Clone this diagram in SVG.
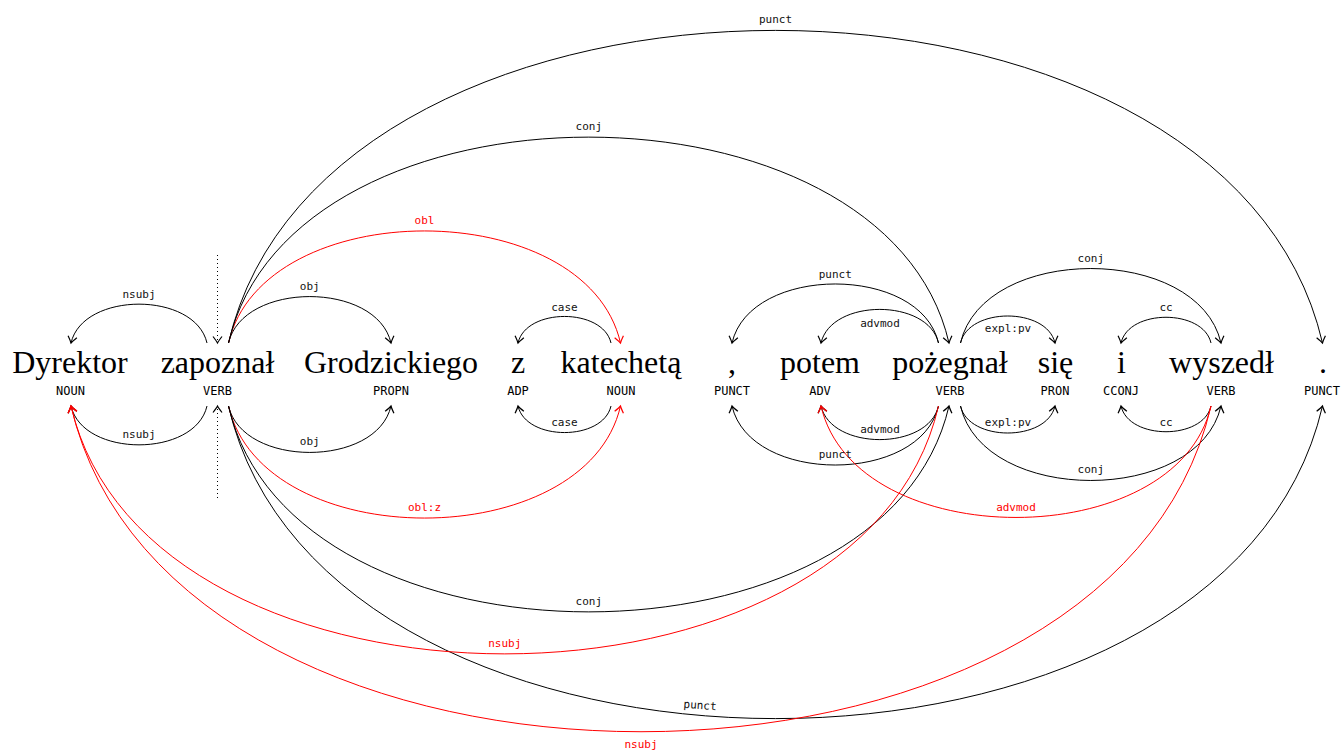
<svg xmlns="http://www.w3.org/2000/svg" width="1341" height="751" viewBox="0 0 1341 751">
<style>
.w{font-family:"Liberation Serif","Times New Roman",serif;font-size:32px;fill:#000;text-anchor:middle}
.t{font-family:"DejaVu Sans Mono",monospace;font-size:12px;fill:#000;text-anchor:middle}
.l{font-family:"DejaVu Sans Mono",monospace;font-size:11px;fill:#111;text-anchor:middle}
.lr{font-family:"DejaVu Sans Mono",monospace;font-size:11px;fill:#ff0000;text-anchor:middle}
.a{fill:none;stroke:#000;stroke-width:1;marker-end:url(#ab)}
.ar{fill:none;stroke:#ff0000;stroke-width:1;marker-end:url(#ar)}
.root{fill:none;stroke:#000;stroke-width:1;stroke-dasharray:1 3;marker-end:url(#ab)}
</style>
<defs>
<marker id="ab" viewBox="-8 -6 10 12" refX="0" refY="0" markerWidth="10" markerHeight="12" markerUnits="userSpaceOnUse" orient="auto">
<path d="M-6.5,-4.5 Q-2,-1 0,0 Q-2,1 -6.5,4.5" fill="none" stroke="#000" stroke-width="1.2" stroke-dasharray="none"/>
</marker>
<marker id="ar" viewBox="-8 -6 10 12" refX="0" refY="0" markerWidth="10" markerHeight="12" markerUnits="userSpaceOnUse" orient="auto">
<path d="M-6.5,-4.5 Q-2,-1 0,0 Q-2,1 -6.5,4.5" fill="none" stroke="#ff0000" stroke-width="1.2" stroke-dasharray="none"/>
</marker>
</defs>
<rect width="1341" height="751" fill="#fff"/>
<g id="connectors">
<path class="root" d="M217.5,255 L217.5,343"/>
<path class="root" d="M217.5,498 L217.5,406"/>
<path class="a" d="M207,343 C195,291.2 83,291.2 71,343"/>
<path class="a" d="M228.5,343 C242.8,281.1 376.7,281.1 391,343"/>
<path class="ar" d="M228.5,343 C263,193.6 586,193.6 620.5,343"/>
<path class="a" d="M228.5,343 C291.9,68.5 885.6,68.5 949,343"/>
<path class="a" d="M228.5,343 C324.8,-73.8 1226.2,-73.8 1322.5,343"/>
<path class="a" d="M611,343 C602.8,307.6 526.2,307.6 518,343"/>
<path class="a" d="M938.5,343 C920.3,264.3 750.2,264.3 732,343"/>
<path class="a" d="M938.5,343 C928.2,298.2 831.3,298.2 821,343"/>
<path class="a" d="M960.5,343 C968.8,307 1046.7,307 1055,343"/>
<path class="a" d="M960.5,343 C983.4,243.7 1198.1,243.7 1221,343"/>
<path class="a" d="M1211,343 C1203.1,308.7 1128.9,308.7 1121,343"/>
<path class="a" d="M207,406 C195,457.8 83,457.8 71,406"/>
<path class="a" d="M228.5,406 C242.8,467.9 376.7,467.9 391,406"/>
<path class="ar" d="M228.5,406 C263,555.4 586,555.4 620.5,406"/>
<path class="a" d="M228.5,406 C291.9,680.5 885.6,680.5 949,406"/>
<path class="a" d="M228.5,406 C324.8,822.8 1226.2,822.8 1322.5,406"/>
<path class="a" d="M611,406 C602.8,441.4 526.2,441.4 518,406"/>
<path class="a" d="M938.5,406 C920.3,484.7 750.2,484.7 732,406"/>
<path class="a" d="M938.5,406 C928.2,450.8 831.3,450.8 821,406"/>
<path class="ar" d="M938.5,406 C862.2,736.5 147.3,736.5 71,406"/>
<path class="a" d="M960.5,406 C968.8,442 1046.7,442 1055,406"/>
<path class="a" d="M960.5,406 C983.4,505.3 1198.1,505.3 1221,406"/>
<path class="a" d="M1211,406 C1203.1,440.3 1128.9,440.3 1121,406"/>
<path class="ar" d="M1211,406 C1176.7,554.6 855.3,554.6 821,406"/>
<path class="ar" d="M1211,406 C1110.7,840.3 171.3,840.3 71,406"/>
<text class="l" x="139" y="297.5">nsubj</text>
<text class="l" x="309.8" y="289.5">obj</text>
<text class="lr" x="424.5" y="223.5">obl</text>
<text class="l" x="588.8" y="129.5">conj</text>
<text class="l" x="775.5" y="22.5">punct</text>
<text class="l" x="564.5" y="310.5">case</text>
<text class="l" x="835.3" y="277.5">punct</text>
<text class="l" x="880" y="326.5">advmod</text>
<text class="l" x="1008" y="332">expl:pv</text>
<text class="l" x="1090.8" y="262">conj</text>
<text class="l" x="1166" y="310.5">cc</text>
<text class="l" x="139" y="437.5">nsubj</text>
<text class="l" x="309.8" y="445">obj</text>
<text class="lr" x="424.5" y="510.5">obl:z</text>
<text class="l" x="588.8" y="604.5">conj</text>
<text class="l" x="700" y="709" transform="rotate(4 700 706)">punct</text>
<text class="l" x="564.5" y="425.5">case</text>
<text class="l" x="835.3" y="458">punct</text>
<text class="l" x="880" y="432.5">advmod</text>
<text class="lr" x="504.8" y="646.5">nsubj</text>
<text class="l" x="1008" y="425.5">expl:pv</text>
<text class="l" x="1090.8" y="473">conj</text>
<text class="l" x="1166" y="425.5">cc</text>
<text class="lr" x="1016" y="510.5">advmod</text>
<text class="lr" x="641" y="747.5">nsubj</text>
</g>
<g id="w1"><text class="w" x="70" y="373">Dyrektor</text><text class="t" x="70.5" y="395">NOUN</text></g>
<g id="w2"><text class="w" x="217.5" y="373">zapoznał</text><text class="t" x="217.5" y="395">VERB</text></g>
<g id="w3"><text class="w" x="391" y="373">Grodzickiego</text><text class="t" x="391" y="395">PROPN</text></g>
<g id="w4"><text class="w" x="518" y="373">z</text><text class="t" x="518" y="395">ADP</text></g>
<g id="w5"><text class="w" x="621" y="373">katechetą</text><text class="t" x="621" y="395">NOUN</text></g>
<g id="w6"><text class="w" x="732" y="373">,</text><text class="t" x="732" y="395">PUNCT</text></g>
<g id="w7"><text class="w" x="820" y="373">potem</text><text class="t" x="820" y="395">ADV</text></g>
<g id="w8"><text class="w" x="950" y="373">pożegnał</text><text class="t" x="950" y="395">VERB</text></g>
<g id="w9"><text class="w" x="1055.5" y="373">się</text><text class="t" x="1055" y="395">PRON</text></g>
<g id="w10"><text class="w" x="1121.5" y="373">i</text><text class="t" x="1121" y="395">CCONJ</text></g>
<g id="w11"><text class="w" x="1221.5" y="373">wyszedł</text><text class="t" x="1221" y="395">VERB</text></g>
<g id="w12"><text class="w" x="1323" y="373">.</text><text class="t" x="1322" y="395">PUNCT</text></g>
</svg>
